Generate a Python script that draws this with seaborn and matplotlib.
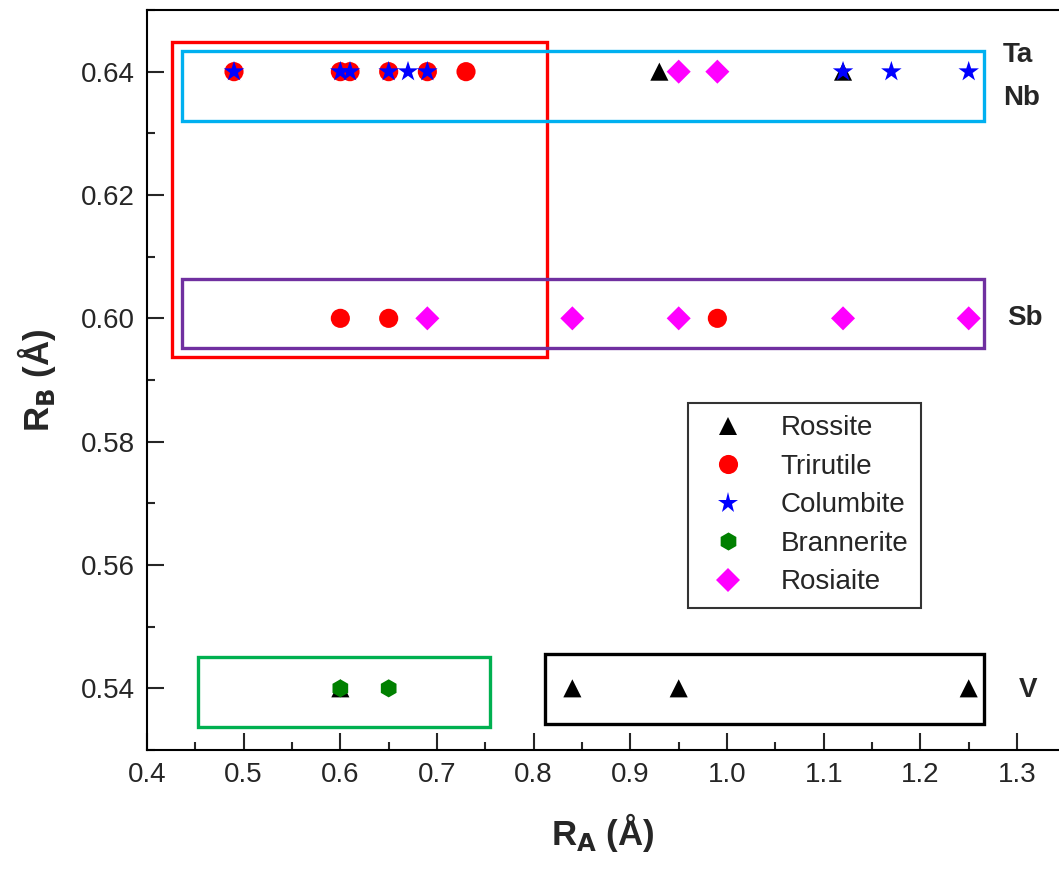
import numpy as np
import pandas as pd
import matplotlib
matplotlib.use("Agg")
import matplotlib.pyplot as plt
import seaborn as sns
from matplotlib.patches import Rectangle

# ---- data ----
rossite_x = [0.93, 1.12, 0.60, 0.84, 0.95, 1.25]
rossite_y = [0.64, 0.64, 0.54, 0.54, 0.54, 0.54]
trirutile_x = [0.49, 0.60, 0.61, 0.65, 0.69, 0.73, 0.60, 0.65, 0.99]
trirutile_y = [0.64, 0.64, 0.64, 0.64, 0.64, 0.64, 0.60, 0.60, 0.60]
columbite_x = [0.49, 0.60, 0.61, 0.65, 0.67, 0.69, 1.12, 1.17, 1.25]
columbite_y = [0.64] * 9
brannerite_x = [0.60, 0.65]
brannerite_y = [0.54, 0.54]
rosiaite_x = [0.95, 0.99, 0.69, 0.84, 0.95, 1.12, 1.25]
rosiaite_y = [0.64, 0.64, 0.60, 0.60, 0.60, 0.60, 0.60]

types = ["Rossite", "Trirutile", "Columbite", "Brannerite", "Rosiaite"]
xs = [rossite_x, trirutile_x, columbite_x, brannerite_x, rosiaite_x]
ys = [rossite_y, trirutile_y, columbite_y, brannerite_y, rosiaite_y]

df = pd.concat([pd.DataFrame({"RA": x, "RB": y, "Type": t})
                for t, x, y in zip(types, xs, ys)], ignore_index=True)

palette = {"Rossite": "black", "Trirutile": "#FF0000", "Columbite": "#0000FF",
           "Brannerite": "#008000", "Rosiaite": "#FF00FF"}
markers = {"Rossite": "^", "Trirutile": "o", "Columbite": "*",
           "Brannerite": "h", "Rosiaite": "D"}
sizes = {"Rossite": 170, "Trirutile": 190, "Columbite": 240,
         "Brannerite": 170, "Rosiaite": 150}

sns.set_style("ticks")
plt.rcParams['font.family'] = ['Liberation Sans', 'DejaVu Sans']

fig = plt.figure(figsize=(10.59, 8.69), dpi=100)
ax = fig.add_axes([147/1059, 119/869, 912/1059, 740/869])

sns.scatterplot(data=df, x="RA", y="RB", hue="Type", style="Type", size="Type",
                palette=palette, markers=markers, sizes=sizes,
                hue_order=types, style_order=types, size_order=types,
                linewidth=0, ax=ax, zorder=3)

ax.set_xlim(0.4, 1.3434)
ax.set_ylim(0.53, 0.65)
ax.set_xticks(np.arange(0.4, 1.31, 0.1))
ax.set_xticks(np.arange(0.45, 1.31, 0.1), minor=True)
ax.set_yticks(np.arange(0.54, 0.641, 0.02))
ax.set_yticks(np.arange(0.53, 0.651, 0.02), minor=True)
ax.xaxis.set_major_formatter(matplotlib.ticker.FormatStrFormatter('%.1f'))
ax.yaxis.set_major_formatter(matplotlib.ticker.FormatStrFormatter('%.2f'))
ax.tick_params(which='major', direction='in', length=12, width=1.5, labelsize=20, pad=9)
ax.tick_params(which='minor', direction='in', length=6, width=1.5)
ax.tick_params(axis='x', top=False)
ax.tick_params(axis='y', right=False)
for side in ['left', 'bottom', 'top']:
    ax.spines[side].set_linewidth(1.5)
    ax.spines[side].set_color('black')
ax.spines['right'].set_visible(False)

ax.set_xlabel(r"R$_\mathbf{A}$ (Å)", fontsize=25, fontweight='bold', labelpad=16)
ax.set_ylabel(r"R$_\mathbf{B}$ (Å)", fontsize=25, fontweight='bold', labelpad=16)

# boxes
boxes = [
    (0.4259, 0.59365, 0.8138, 0.64486, "#FF0000"),
    (0.4362, 0.63206, 1.2659, 0.64340, "#00B0F0"),
    (0.4362, 0.59511, 1.2659, 0.60645, "#7030A0"),
    (0.4528, 0.53368, 0.7548, 0.54502, "#00B050"),
    (0.8117, 0.53417, 1.2659, 0.54551, "black"),
]
for x0, y0, x1, y1, c in boxes:
    ax.add_patch(Rectangle((x0, y0), x1 - x0, y1 - y0, fill=False,
                           edgecolor=c, linewidth=2.4, zorder=2))

ax.text(1.2855, 0.6427, "Ta", fontsize=20, fontweight='bold', va='center', ha='left')
ax.text(1.2855, 0.6358, "Nb", fontsize=20, fontweight='bold', va='center', ha='left')
ax.text(1.2895, 0.6001, "Sb", fontsize=20, fontweight='bold', va='center', ha='left')
ax.text(1.3015, 0.5397, "V", fontsize=20, fontweight='bold', va='center', ha='left')

sns.move_legend(ax, loc='upper left', bbox_to_anchor=(0.593, 0.469), title=None,
                frameon=True, fontsize=20, fancybox=False, edgecolor='black',
                borderpad=0.45, labelspacing=0.45, handletextpad=0.9, markerscale=1.0,
                borderaxespad=0)
leg = ax.get_legend()
leg.get_frame().set_linewidth(1.5)

fig.savefig("out.png", dpi=100)
